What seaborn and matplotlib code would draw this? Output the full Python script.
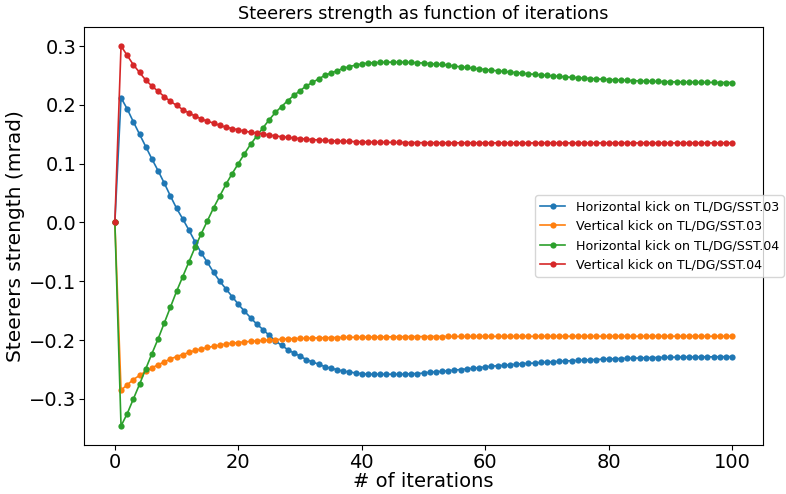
import matplotlib
matplotlib.use('Agg')
import matplotlib.pyplot as plt
import pandas as pd
import seaborn as sns

# Configuration
OUTPUT_FILE = 'out.png'
FIG_W, FIG_H, DPI = 7.86, 4.94, 100

# Data (one value per iteration, 0..100)
ITERATIONS = list(range(101))

H_SST03 = [
    0.0,
    0.212, 0.193, 0.171, 0.150, 0.129, 0.108, 0.088, 0.067, 0.045, 0.024,
    0.006, -0.013, -0.033, -0.052, -0.068, -0.085, -0.100, -0.113, -0.126, -0.139,
    -0.151, -0.162, -0.173, -0.182, -0.192, -0.201, -0.209, -0.216, -0.222, -0.227,
    -0.233, -0.237, -0.241, -0.245, -0.248, -0.250, -0.253, -0.254, -0.256, -0.257,
    -0.258, -0.258, -0.258, -0.258, -0.258, -0.258, -0.258, -0.257, -0.257, -0.256,
    -0.2545, -0.254, -0.253, -0.252, -0.251, -0.250, -0.249, -0.248, -0.247, -0.2455,
    -0.2445, -0.2435, -0.243, -0.242, -0.241, -0.240, -0.2395, -0.239, -0.238, -0.2375,
    -0.237, -0.236, -0.2355, -0.235, -0.2345, -0.234, -0.2335, -0.233, -0.2325, -0.232,
    -0.2317, -0.2313, -0.231, -0.2307, -0.2304, -0.230, -0.2298, -0.2296, -0.2294, -0.2292,
    -0.229, -0.2289, -0.2288, -0.2287, -0.2286, -0.2285, -0.2284, -0.2283, -0.2282, -0.2281,
]

V_SST03 = [
    0.0,
    -0.285, -0.276, -0.267, -0.260, -0.253, -0.247, -0.242, -0.237, -0.232, -0.228,
    -0.2245, -0.221, -0.2175, -0.215, -0.2125, -0.2105, -0.2085, -0.2065, -0.2052, -0.2042,
    -0.2031, -0.2021, -0.2013, -0.2006, -0.1999, -0.1993, -0.1985, -0.198, -0.1975, -0.1971,
    -0.1968, -0.1965, -0.1962, -0.196, -0.1958, -0.1956, -0.1954, -0.1952, -0.1951, -0.195,
    -0.1948, -0.1947, -0.1946, -0.1945, -0.1944, -0.1943, -0.1942, -0.1941, -0.194, -0.194,
    -0.1939, -0.1939, -0.1939, -0.1938, -0.1938, -0.1938, -0.1938, -0.1937, -0.1937, -0.1937,
    -0.1937, -0.1937, -0.1936, -0.1936, -0.1936, -0.1936, -0.1936, -0.1936, -0.1935, -0.1935,
    -0.1935, -0.1935, -0.1935, -0.1935, -0.1935, -0.1935, -0.1935, -0.1935, -0.1935, -0.1935,
    -0.1935, -0.1935, -0.1935, -0.1935, -0.1935, -0.1934, -0.1934, -0.1934, -0.1934, -0.1934,
    -0.1934, -0.1934, -0.1934, -0.1934, -0.1934, -0.1934, -0.1934, -0.1934, -0.1934, -0.1934,
]

H_SST04 = [
    0.0,
    -0.346, -0.325, -0.300, -0.275, -0.249, -0.223, -0.198, -0.171, -0.144, -0.117,
    -0.092, -0.067, -0.042, -0.019, 0.003, 0.025, 0.045, 0.065, 0.083, 0.100,
    0.117, 0.133, 0.147, 0.161, 0.1745, 0.187, 0.197, 0.207, 0.216, 0.224,
    0.232, 0.238, 0.244, 0.250, 0.254, 0.258, 0.262, 0.265, 0.2675, 0.2695,
    0.271, 0.2717, 0.272, 0.2725, 0.2725, 0.2725, 0.2723, 0.272, 0.2715, 0.271,
    0.270, 0.269, 0.2686, 0.2673, 0.266, 0.2645, 0.2635, 0.2622, 0.261, 0.260,
    0.2588, 0.2578, 0.2567, 0.2557, 0.2547, 0.2537, 0.2527, 0.2518, 0.2509, 0.250,
    0.2491, 0.2483, 0.2475, 0.2467, 0.246, 0.2453, 0.2447, 0.2441, 0.2435, 0.243,
    0.2425, 0.242, 0.2415, 0.2411, 0.2407, 0.2403, 0.240, 0.2397, 0.2394, 0.2391,
    0.2389, 0.2387, 0.2385, 0.2383, 0.2382, 0.2381, 0.238, 0.2379, 0.2378, 0.2378,
]

V_SST04 = [
    0.0,
    0.300, 0.284, 0.268, 0.255, 0.242, 0.232, 0.223, 0.214, 0.206, 0.199,
    0.192, 0.186, 0.181, 0.176, 0.172, 0.169, 0.165, 0.162, 0.1597, 0.1574,
    0.1552, 0.1535, 0.1518, 0.1503, 0.1486, 0.1472, 0.1458, 0.1447, 0.1436, 0.1426,
    0.1417, 0.1409, 0.1402, 0.1396, 0.139, 0.1385, 0.1381, 0.1377, 0.1374, 0.1371,
    0.1368, 0.1366, 0.1364, 0.1362, 0.1361, 0.136, 0.1359, 0.1358, 0.1357, 0.1356,
    0.1355, 0.1355, 0.1355, 0.1354, 0.1354, 0.1354, 0.1354, 0.1353, 0.1353, 0.1353,
    0.1353, 0.1353, 0.1353, 0.1353, 0.1353, 0.1352, 0.1352, 0.1352, 0.1352, 0.1352,
    0.1352, 0.1352, 0.1352, 0.1352, 0.1352, 0.1352, 0.1352, 0.1352, 0.1352, 0.1352,
    0.1352, 0.1352, 0.1352, 0.1352, 0.1352, 0.1352, 0.1352, 0.1352, 0.1352, 0.1352,
    0.1352, 0.1352, 0.1352, 0.1352, 0.1352, 0.1352, 0.1352, 0.1352, 0.1352, 0.1352,
]

SERIES_LABELS = [
    'Horizontal kick on TL/DG/SST.03',
    'Vertical kick on TL/DG/SST.03',
    'Horizontal kick on TL/DG/SST.04',
    'Vertical kick on TL/DG/SST.04',
]
SERIES_VALUES = [H_SST03, V_SST03, H_SST04, V_SST04]
COLORS = sns.color_palette('tab10', n_colors=4)


def build_frame() -> pd.DataFrame:
  """Long-form table: one row per (series, iteration)."""
  frames = []
  for label, values in zip(SERIES_LABELS, SERIES_VALUES):
    assert len(values) == len(ITERATIONS), label
    frames.append(pd.DataFrame({'iteration': ITERATIONS,
                                'strength': values,
                                'series': label}))
  return pd.concat(frames, ignore_index=True)


def plot_steerers(df: pd.DataFrame) -> None:
  fig = plt.figure(figsize=(FIG_W, FIG_H), dpi=DPI)
  # axes box placed to match the reference frame (bottom pulled up a little
  # so the x label fits inside the canvas)
  ax = fig.add_axes([84 / 786, 1 - 445 / 494, (763 - 84) / 786, (445 - 27) / 494])

  for label, color in zip(SERIES_LABELS, COLORS):
    sub = df[df['series'] == label]
    sns.lineplot(data=sub, x='iteration', y='strength', ax=ax,
                 color=color, label=label, marker='o', markersize=4.5,
                 markeredgewidth=0, linewidth=1.2, sort=False)

  ax.set_title('Steerers strength as function of iterations', fontsize=12.7)
  ax.set_xlabel('# of iterations', fontsize=14, labelpad=0)
  ax.set_ylabel('Steerers strength (mrad)', fontsize=14.5, labelpad=3)
  ax.tick_params(labelsize=14, pad=2)
  ax.set_xticks([0, 20, 40, 60, 80, 100])

  leg = ax.legend(loc='center right', bbox_to_anchor=(1.04, 0.5),
                  fontsize=9.1, frameon=True)
  leg.get_frame().set_edgecolor('#cccccc')

  fig.savefig(OUTPUT_FILE, dpi=DPI)
  plt.close(fig)


if __name__ == '__main__':
  plot_steerers(build_frame())
